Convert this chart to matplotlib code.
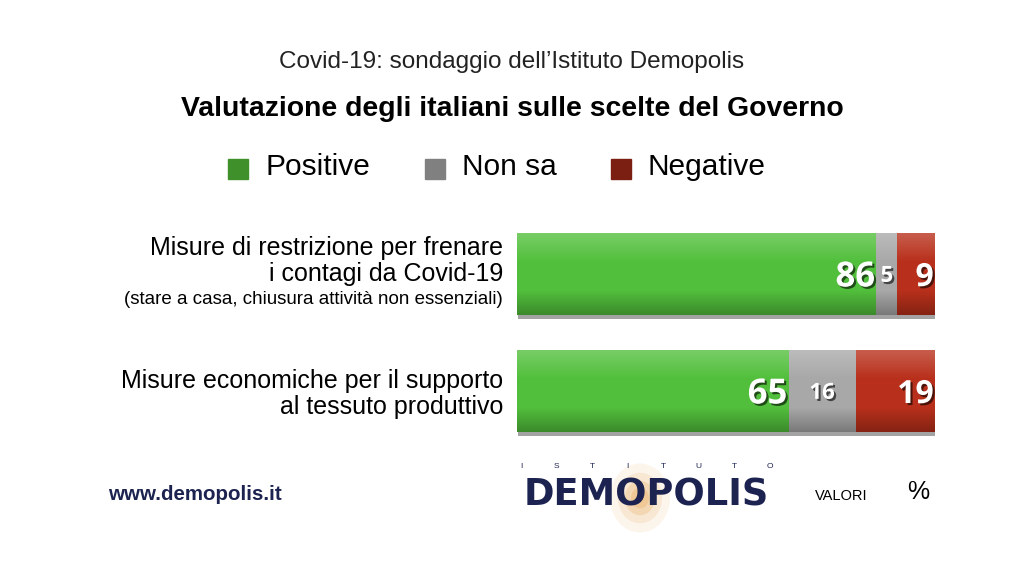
import matplotlib.pyplot as plt
import matplotlib.patheffects as pe
from matplotlib.patches import Rectangle, Ellipse

import numpy as np

categories = ['Misure di restrizione per frenare\ni contagi da Covid-19',
              'Misure economiche per il supporto\nal tessuto produttivo']
notes = ['(stare a casa, chiusura attività non essenziali)', '']
series = ['Positive', 'Non sa', 'Negative']
positive = [86, 65]
non_sa = [5, 16]
negative = [9, 19]

bar_colors = ['#52bf3c', '#a8a8a8', '#b8301b']
legend_colors = ['#3f8f2a', '#808080', '#7a1f12']
navy = '#1c2350'

fig = plt.figure(figsize=(10.24, 5.76), dpi=100)
fig.patch.set_facecolor('white')

ax = fig.add_axes([517 / 1024, 1 - 449.5 / 576, 418 / 1024, 234 / 576])
ind = np.arange(len(categories))
height = 0.7

shadow = [pe.SimplePatchShadow(offset=(1, -3), shadow_rgbFace='#333333',
                               alpha=0.45), pe.Normal()]

left = np.zeros(len(categories))
for vals, col in zip([positive, non_sa, negative], bar_colors):
    ax.barh(ind, vals, height, left=left, color=col, edgecolor='none',
            path_effects=shadow)
    left += np.array(vals)

# soft vertical shading over each bar row (lighter top, darker bottom)
t = np.linspace(0, 1, 100)
shade = np.zeros((100, 1, 4))
top = np.clip(1 - t / 0.35, 0, 1)
bot = np.clip((t - 0.7) / 0.3, 0, 1)
shade[:, 0, :3] = np.where(top[:, None] > 0, 1.0, 0.0)
shade[:, 0, 3] = 0.22 * top + 0.28 * bot
for i in ind:
    ax.imshow(shade, extent=(0, 100, i + height / 2, i - height / 2),
              aspect='auto', interpolation='bilinear', zorder=3)
ax.set_xlim(0, 100)
ax.set_ylim(1.5, -0.5)
ax.axis('off')

txt_fx = [pe.withSimplePatchShadow(offset=(1.5, -1.5), shadow_rgbFace='black',
                                   alpha=0.6)]
for i in ind:
    p, n, g = positive[i], non_sa[i], negative[i]
    ax.text(p - 0.3, i + 0.03, str(p), ha='right', va='center', color='white',
            fontsize=25, fontweight='bold', family='Open Sans',
            path_effects=txt_fx, zorder=5)
    ax.text(p + n / 2, i + 0.02, str(n), ha='center', va='center',
            color='white', fontsize=16, fontweight='bold', family='Open Sans',
            path_effects=txt_fx, zorder=5)
    ax.text(100 - 0.3, i + 0.03, str(g), ha='right', va='center',
            color='white', fontsize=23, fontweight='bold', family='Open Sans',
            path_effects=txt_fx, zorder=5)

# category labels
fig.text(503 / 1024, 1 - 261 / 576, categories[0], ha='right', va='center',
         fontsize=18, family='Liberation Sans', linespacing=1.1)
fig.text(503 / 1024, 1 - 300 / 576, notes[0], ha='right', va='center',
         fontsize=13.5, family='Liberation Sans')
fig.text(503 / 1024, 1 - 394 / 576, categories[1], ha='right', va='center',
         fontsize=18, family='Liberation Sans', linespacing=1.1)

# titles
fig.text(0.5, 1 - 62 / 576, 'Covid-19: sondaggio dell\u2019Istituto Demopolis',
         ha='center', va='center', fontsize=17.5, family='Liberation Sans',
         color='#222222')
fig.text(0.5, 1 - 109 / 576, 'Valutazione degli italiani sulle scelte del Governo',
         ha='center', va='center', fontsize=20.4, fontweight='bold',
         family='Liberation Sans')

# legend
leg_x = [228, 425, 611]
for x, name, col in zip(leg_x, series, legend_colors):
    fig.patches.append(Rectangle((x / 1024, 1 - 179 / 576), 20 / 1024,
                                 20 / 576, transform=fig.transFigure,
                                 color=col))
    fig.text((x + 37) / 1024, 1 - 167 / 576, name, ha='left', va='center',
             fontsize=21.5, family='Liberation Sans')

# footer
fig.text(108 / 1024, 1 - 494 / 576, 'www.demopolis.it', ha='left',
         va='center', fontsize=14.8, fontweight='bold', color=navy,
         family='Liberation Sans')
for k, ch in enumerate('ISTITUTO'):
    fig.text((521 + k * 35.5) / 1024, 1 - 467 / 576, ch, ha='center',
             va='center', fontsize=6, color=navy, family='Liberation Sans')
for w, a in [(60, 0.12), (44, 0.2), (30, 0.3), (18, 0.4)]:
    fig.patches.append(Ellipse((640 / 1024, 1 - 498 / 576), w / 1024,
                               w * 1.15 / 576, transform=fig.transFigure,
                               color='#e9b26a', alpha=a, lw=0))
fig.text(646 / 1024, 1 - 506 / 576, 'DEMOPOLIS', ha='center', va='baseline',
         fontsize=26.5, fontweight='bold', color=navy, family='DejaVu Sans')
fig.text(815 / 1024, 1 - 496 / 576, 'VALORI', ha='left', va='center',
         fontsize=10.5, family='Liberation Sans')
fig.text(907 / 1024, 1 - 492 / 576, '%', ha='left', va='center',
         fontsize=18, family='Liberation Sans')

plt.savefig('out.png', dpi=100)
